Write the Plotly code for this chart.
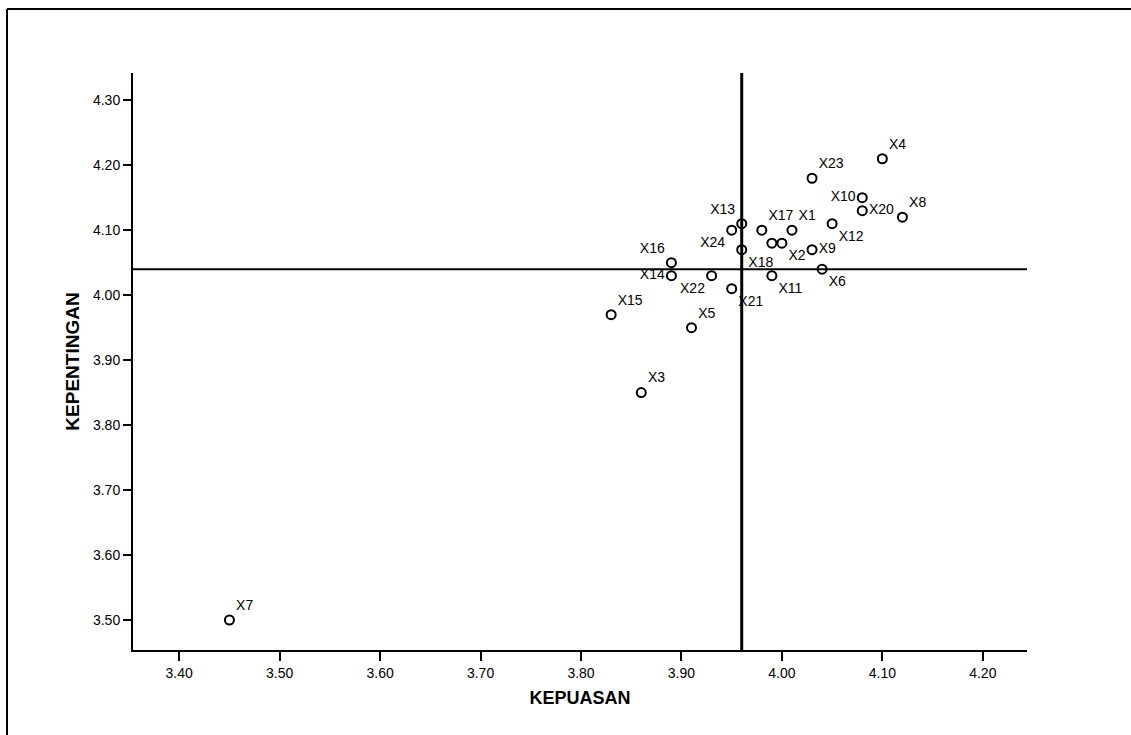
import plotly.graph_objects as go

# ---- data ----
labels = ["X1", "X2", "X3", "X4", "X5", "X6", "X7", "X8", "X9", "X10", "X11", "X12",
          "X13", "X14", "X15", "X16", "X17", "X18", "X19", "X20", "X21", "X22", "X23", "X24"]
kepuasan = [4.01, 4.00, 3.86, 4.10, 3.91, 4.04, 3.45, 4.12, 4.03, 4.08, 3.99, 4.05,
            3.96, 3.89, 3.83, 3.89, 3.98, 3.96, 3.99, 4.08, 3.95, 3.93, 4.03, 3.95]
kepentingan = [4.10, 4.08, 3.85, 4.21, 3.95, 4.04, 3.50, 4.12, 4.07, 4.15, 4.03, 4.11,
               4.11, 4.03, 3.97, 4.05, 4.10, 4.07, 4.08, 4.13, 4.01, 4.03, 4.18, 4.10]
# label placement (X19's label is hidden behind its neighbour in the reference)
label_pos = ["top right", "bottom right", "top right", "top right", "top right", "bottom right",
             "top right", "top right", "middle right", "middle left", "bottom right", "bottom right",
             "top left", "middle left", "top right", "top left", "top right", "bottom right",
             "top right", "middle right", "bottom right", "bottom left", "top right", "bottom left"]
hidden_labels = ["X19"]

mean_kepuasan = 3.96
mean_kepentingan = 4.04

x_ticks = [3.40, 3.50, 3.60, 3.70, 3.80, 3.90, 4.00, 4.10, 4.20]
y_ticks = [3.50, 3.60, 3.70, 3.80, 3.90, 4.00, 4.10, 4.20, 4.30]

FONT = "Arial, Liberation Sans, sans-serif"

shown_text = ["" if l in hidden_labels else l for l in labels]

fig = go.Figure()
fig.add_trace(go.Scatter(
    x=kepuasan, y=kepentingan, mode="markers+text",
    text=shown_text, textposition=label_pos,
    textfont=dict(family=FONT, size=14, color="black"),
    marker=dict(symbol="circle-open", size=9, color="black", line=dict(width=2, color="black")),
    cliponaxis=False, showlegend=False, hoverinfo="x+y+text",
))

fig.add_vline(x=mean_kepuasan, line=dict(color="black", width=3))
fig.add_hline(y=mean_kepentingan, line=dict(color="black", width=2))

# plot area: left 133, right 1027, top 73, bottom 650 (px)
L, R, T, B = 133, 1027, 73, 650
W, H = 1131, 735
pw, ph = R - L, B - T
def px_x(p):
    return (p - L) / pw
def px_y(p):
    return (B - p) / ph

# scanned page border (top and left edges)
fig.add_shape(type="line", xref="paper", yref="paper",
              x0=px_x(7), x1=px_x(1131), y0=px_y(9), y1=px_y(9),
              line=dict(color="black", width=2))
fig.add_shape(type="line", xref="paper", yref="paper",
              x0=px_x(7), x1=px_x(7), y0=px_y(9), y1=px_y(735),
              line=dict(color="black", width=2))

fig.update_xaxes(
    range=[3.354, 4.244], tickvals=x_ticks, ticktext=[f"{v:.2f}" for v in x_ticks],
    ticks="outside", ticklen=9, tickwidth=2, tickcolor="black",
    showline=True, linecolor="black", linewidth=1.5, mirror=False,
    showgrid=False, zeroline=False,
    tickfont=dict(family=FONT, size=14, color="black"),
    title=dict(text="<b>KEPUASAN</b>", font=dict(family=FONT, size=18, color="black"), standoff=12),
)
fig.update_yaxes(
    range=[3.4538, 4.342], tickvals=y_ticks, ticktext=[f"{v:.2f}" for v in y_ticks],
    ticks="outside", ticklen=8, tickwidth=2, tickcolor="black",
    showline=True, linecolor="black", linewidth=2, mirror=False,
    showgrid=False, zeroline=False,
    tickfont=dict(family=FONT, size=14, color="black"),
    title=dict(text="<b>KEPENTINGAN</b>", font=dict(family=FONT, size=19, color="black"), standoff=8),
)

fig.update_layout(
    width=W, height=H,
    margin=dict(l=L, r=W - R, t=T, b=H - B, autoexpand=False),
    plot_bgcolor="white", paper_bgcolor="white",
    font=dict(family=FONT, color="black"),
)

fig.write_html("out.html", config={"displayModeBar": False},
               post_script="document.body.style.margin='0px';document.body.style.overflow='hidden';")
